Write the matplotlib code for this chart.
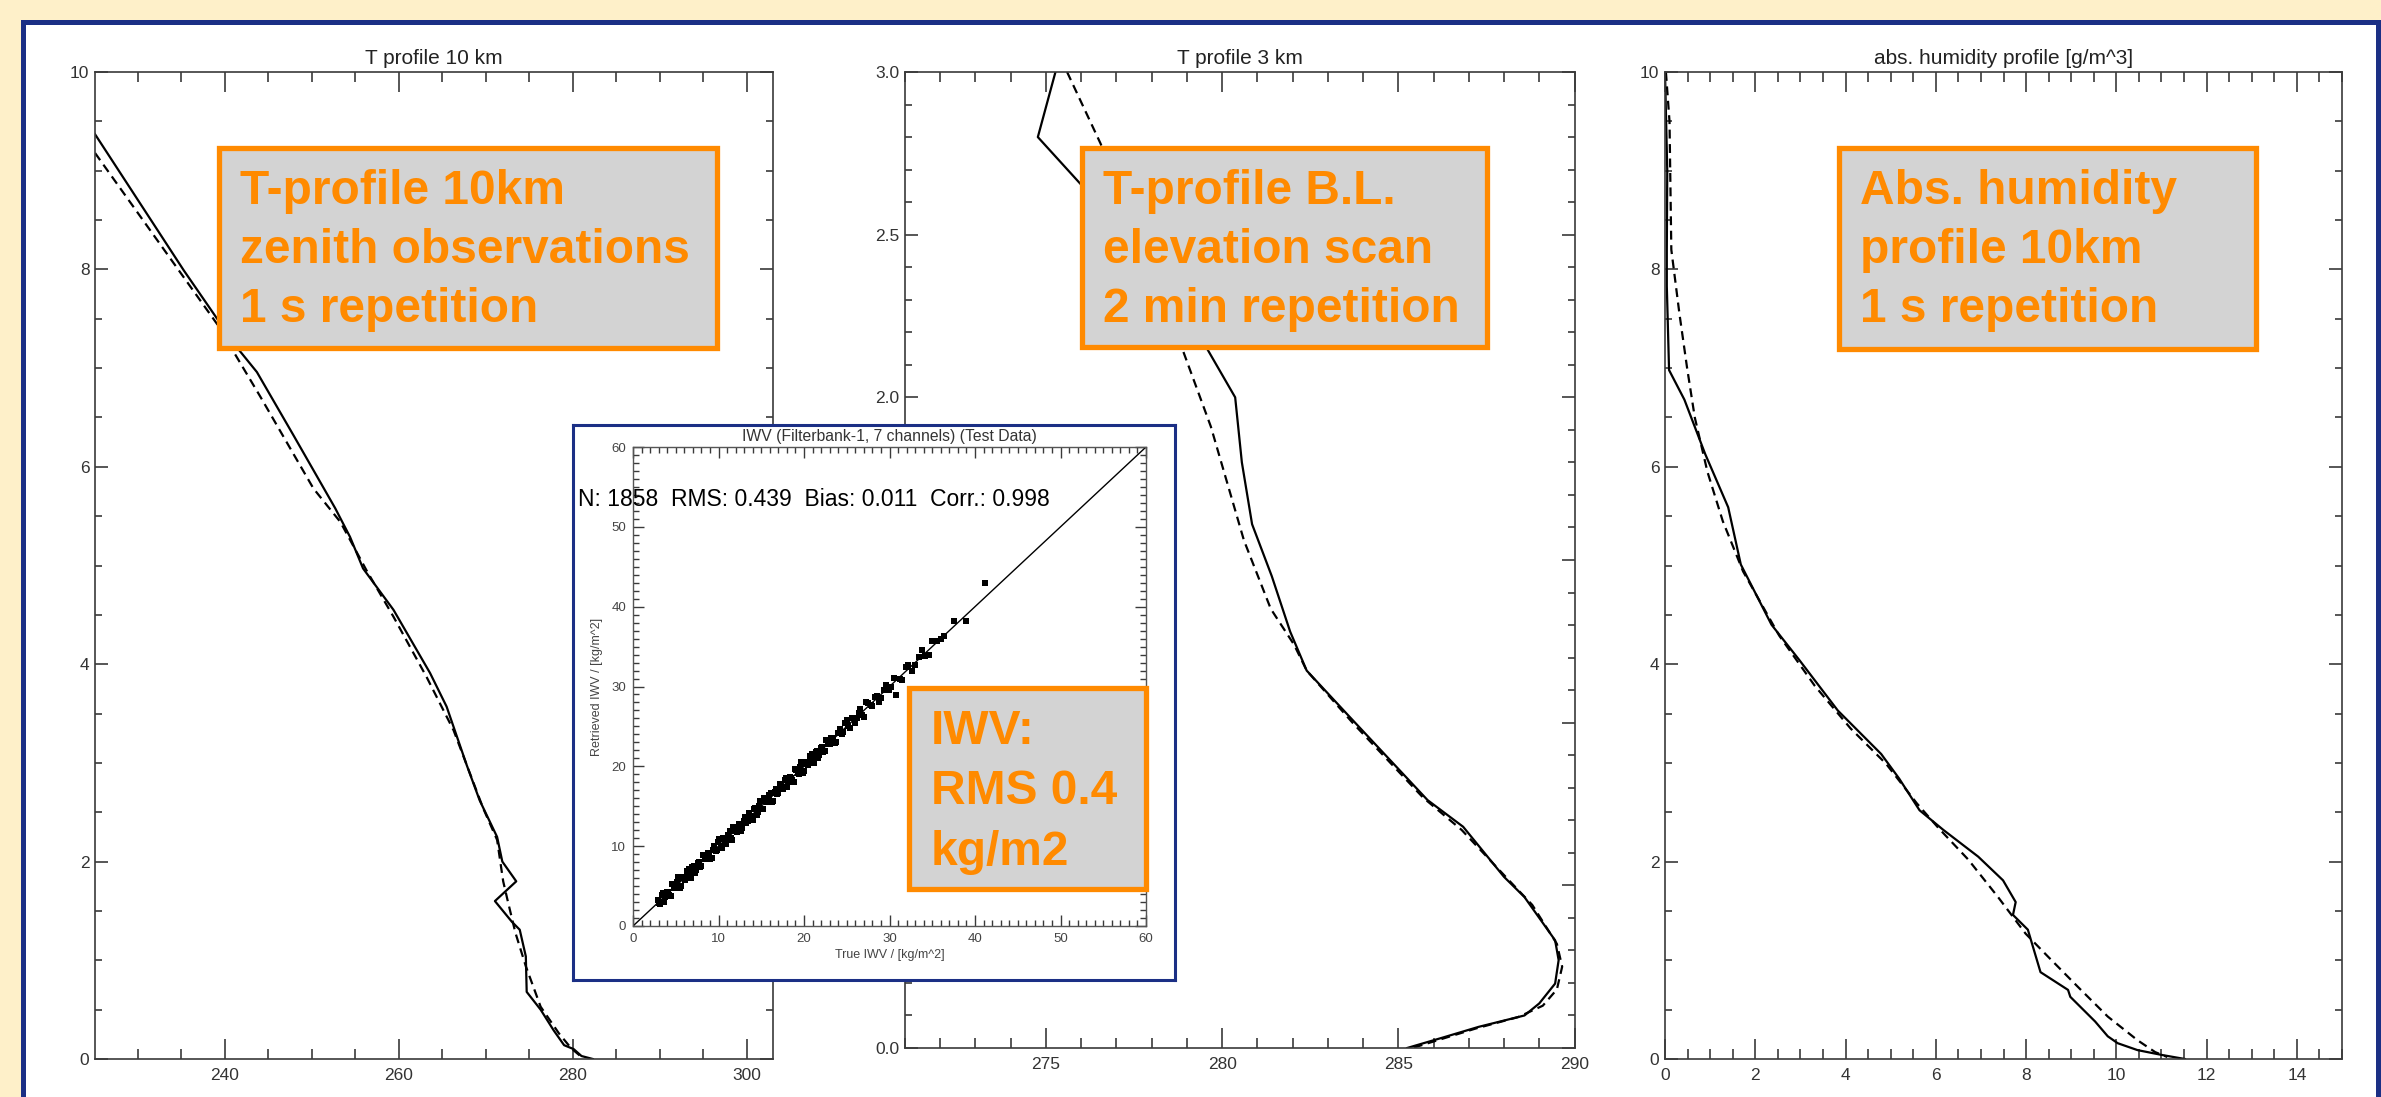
"""Three retrieval profiles (T 10 km, T 3 km, abs. humidity) with an IWV scatter inset."""

import matplotlib.pyplot as plt
from matplotlib.patches import Rectangle
from matplotlib.ticker import MultipleLocator, FormatStrFormatter

plt.rcParams["font.family"] = ["Liberation Sans", "DejaVu Sans"]

# ---- data ----
# T profile 10 km: temperature [K] vs height [km]
t10_solid_t = [225.1, 235.3, 241.4, 243.7, 247.9, 252.7, 254.4, 255.9, 259.4, 263.6, 265.5, 267.8,
               269.3, 271.3, 271.9, 273.5, 271.05, 273.0, 273.9, 274.6, 274.7, 276.3, 277.8, 279.0,
               280.1, 281.0, 282.3]
t10_solid_h = [9.37, 7.99, 7.21, 6.96, 6.32, 5.58, 5.29, 4.97, 4.55, 3.91, 3.57, 2.98,
               2.62, 2.25, 2.0, 1.80, 1.60, 1.39, 1.31, 1.04, 0.68, 0.50, 0.29, 0.14,
               0.10, 0.03, 0.0]
t10_dash_t = [225.1, 239.1, 244.1, 250.2, 253.3, 256.3, 259.4, 263.2, 266.3, 269.7, 271.3, 272.0,
              272.5, 273.4, 274.6, 276.3, 278.4, 279.8, 281.0]
t10_dash_h = [9.18, 7.45, 6.71, 5.78, 5.44, 4.95, 4.48, 3.87, 3.33, 2.54, 2.22, 1.80,
              1.61, 1.28, 0.94, 0.53, 0.26, 0.11, 0.02]

# T profile 3 km (boundary layer)
t3_solid_t = [275.27, 274.77, 276.03, 279.57, 280.37, 280.56, 280.85, 281.41, 281.93, 282.4, 283.6,
              285.83, 286.84, 288.0, 288.58, 289.45, 289.55, 289.45, 289.0, 288.58, 287.28, 286.26, 285.25]
t3_solid_h = [3.0, 2.80, 2.65, 2.15, 2.0, 1.80, 1.61, 1.45, 1.28, 1.16, 1.02,
              0.762, 0.68, 0.526, 0.464, 0.331, 0.27, 0.198, 0.137, 0.10, 0.065, 0.032, 0.0]
t3_dash_t = [275.6, 276.55, 278.9, 279.68, 280.62, 281.38, 282.04, 282.4, 283.7, 285.7, 286.8,
             288.1, 288.8, 289.5, 289.65, 289.5, 289.1, 288.4, 287.2, 286.3, 285.4]
t3_dash_h = [3.0, 2.78, 2.14, 1.91, 1.56, 1.35, 1.24, 1.16, 1.00, 0.77, 0.67,
             0.52, 0.44, 0.32, 0.25, 0.18, 0.13, 0.095, 0.06, 0.03, 0.0]

# absolute humidity [g/m^3] vs height [km]
q_solid = [0.0, 0.05, 0.04, 0.04, 0.09, 0.43, 0.89, 1.40, 1.68, 2.36, 2.98, 3.83, 4.79, 5.19, 5.64,
           6.17, 6.94, 7.49, 7.77, 7.71, 8.04, 8.32, 8.93, 8.98, 9.53, 9.81, 10.03, 10.47, 11.02, 11.52]
q_solid_h = [10.0, 9.0, 8.2, 7.83, 6.98, 6.68, 6.13, 5.59, 5.01, 4.40, 4.04, 3.53, 3.09, 2.84, 2.52,
             2.32, 2.05, 1.81, 1.59, 1.46, 1.31, 0.88, 0.70, 0.63, 0.38, 0.23, 0.16, 0.09, 0.04, 0.0]
q_dash = [0.02, 0.10, 0.14, 0.32, 0.49, 0.66, 0.94, 1.28, 1.73, 2.53, 3.32, 4.11, 4.90, 5.58,
          6.06, 6.72, 7.38, 7.99, 8.48, 9.15, 9.81, 10.47, 10.86, 11.13]
q_dash_h = [10.0, 9.5, 8.2, 7.55, 7.0, 6.50, 5.95, 5.45, 4.94, 4.29, 3.78, 3.35, 2.99, 2.59,
            2.34, 2.02, 1.64, 1.27, 1.04, 0.73, 0.43, 0.19, 0.07, 0.02]

# IWV scatter (true vs retrieved, kg/m^2), two passes along the band
iwv_true = [2.9, 3.2, 3.5, 3.8, 4.1, 4.4, 4.7, 5.0, 5.3, 5.6, 5.9, 6.2, 6.5, 6.8, 7.1, 7.4, 7.7, 8.0,
            8.3, 8.6, 8.9, 9.2, 9.5, 9.8, 10.1, 10.4, 10.7, 11.0, 11.3, 11.6, 11.9, 12.2, 12.5, 12.8,
            13.1, 13.4, 13.7, 14.0, 14.3, 14.6, 14.9, 15.2, 15.5, 15.8, 16.1, 16.4, 16.7, 17.0, 17.3,
            17.6, 17.9, 18.2, 18.5, 18.8, 19.1, 19.4, 19.7, 20.0, 20.3, 20.6, 20.9, 21.2, 21.5, 21.8,
            22.1, 22.4, 22.7, 23.0, 23.4, 23.8, 24.2, 24.6, 25.0, 25.4, 25.8, 26.2, 26.6, 27.0, 27.5,
            28.0, 28.5, 29.0, 29.6, 30.2, 30.8, 31.5, 32.2, 33.0, 33.8, 34.6, 35.5, 36.4, 37.6, 39.0, 41.2]
iwv_ret = [3.2, 2.7, 4.1, 3.6, 4.2, 3.7, 5.2, 4.7, 6.1, 5.0, 6.1, 6.1, 7.1, 6.0, 7.5, 7.0, 8.0, 7.5,
           8.9, 8.4, 9.0, 8.5, 10.0, 9.5, 10.9, 9.8, 10.9, 10.9, 11.9, 10.8, 12.3, 11.8, 12.8, 12.3,
           13.7, 13.2, 13.8, 13.3, 14.8, 14.3, 15.7, 14.6, 15.7, 15.7, 16.7, 15.6, 17.1, 16.6, 17.6,
           17.1, 18.5, 18.0, 18.6, 18.1, 19.6, 19.1, 20.5, 19.4, 20.5, 20.5, 21.5, 20.4, 21.9, 21.4,
           22.4, 21.9, 23.3, 22.8, 23.5, 23.1, 24.7, 24.3, 25.8, 24.8, 26.0, 26.1, 27.2, 26.2, 27.9,
           27.6, 28.8, 28.5, 30.2, 30.0, 28.9, 30.8, 32.7, 32.7, 34.6, 34.0, 35.7, 36.3, 38.2, 38.2, 43.0]
iwv_true_b = [3.05, 3.35, 3.65, 3.95, 4.25, 4.55, 4.85, 5.15, 5.45, 5.75, 6.05, 6.35, 6.65, 6.95,
              7.25, 7.55, 7.85, 8.15, 8.45, 8.75, 9.05, 9.35, 9.65, 9.95, 10.25, 10.55, 10.85, 11.15,
              11.45, 11.75, 12.05, 12.35, 12.65, 12.95, 13.25, 13.55, 13.85, 14.15, 14.45, 14.75,
              15.05, 15.35, 15.65, 15.95, 16.25, 16.55, 16.85, 17.15, 17.45, 17.75, 18.05, 18.35,
              18.65, 18.95, 19.25, 19.55, 19.85, 20.15, 20.45, 20.75, 21.05, 21.35, 21.65, 21.95,
              22.25, 22.55, 22.85, 23.2, 23.6, 24.0, 24.4, 24.8, 25.2, 25.6, 26.0, 26.4, 26.8, 27.3,
              27.8, 28.3, 28.8, 29.3, 29.9, 30.5, 31.2, 31.9, 32.6, 33.4, 34.2, 35.0, 36.0]
iwv_ret_b = [2.85, 3.85, 3.05, 4.25, 3.85, 5.25, 4.75, 5.55, 4.75, 5.95, 5.75, 6.95, 6.45, 7.45,
             6.65, 7.85, 7.45, 8.85, 8.35, 9.15, 8.35, 9.55, 9.35, 10.55, 10.05, 11.05, 10.25, 11.45,
             11.05, 12.45, 11.95, 12.75, 11.95, 13.15, 12.95, 14.15, 13.65, 14.65, 13.85, 15.05,
             14.65, 16.05, 15.55, 16.35, 15.55, 16.75, 16.55, 17.75, 17.25, 18.25, 17.45, 18.65,
             18.25, 19.65, 19.15, 19.95, 19.15, 20.35, 20.15, 21.35, 20.85, 21.85, 21.05, 22.25,
             21.85, 23.25, 22.75, 23.6, 22.9, 24.2, 24.1, 25.4, 25.0, 26.1, 25.4, 26.7, 26.4, 28.0,
             27.7, 28.7, 28.1, 29.5, 29.6, 31.1, 31.0, 32.4, 32.0, 33.7, 33.8, 35.7, 35.9]
iwv_line = [0, 60]

titles = ["T profile 10 km", "T profile 3 km", "abs. humidity profile [g/m^3]"]
notes = [
    "T-profile 10km\nzenith observations\n1 s repetition",
    "T-profile B.L.\nelevation scan\n2 min repetition",
    "Abs. humidity\nprofile 10km\n1 s repetition",
]
iwv_note = "IWV:\nRMS 0.4\nkg/m2"
stats = "N: 1858  RMS: 0.439  Bias: 0.011  Corr.: 0.998"

# ---- figure ----
W, H = 2381, 1097
BLUE = "#1b2f85"
ORANGE = "#ff8a00"
GREY = "#d3d3d3"
SPINE = "#3a3a3a"
LABEL = "#333333"

fig = plt.figure(figsize=(W / 100, H / 100), dpi=100, facecolor="#fef0c9")


def px(x0, y0, x1, y1):
    return [x0 / W, 1 - y1 / H, (x1 - x0) / W, (y1 - y0) / H]


fig.add_artist(Rectangle((23 / W, -0.02), (2378 - 23) / W, (H - 22) / H + 0.02,
                         transform=fig.transFigure, facecolor="white", edgecolor=BLUE,
                         linewidth=3.6, zorder=-1))


def style(ax, xmaj, xmin, ymaj, ymin):
    ax.xaxis.set_major_locator(MultipleLocator(xmaj))
    ax.xaxis.set_minor_locator(MultipleLocator(xmin))
    ax.yaxis.set_major_locator(MultipleLocator(ymaj))
    ax.yaxis.set_minor_locator(MultipleLocator(ymin))
    ax.tick_params(which="both", direction="in", top=True, right=True,
                   color=SPINE, labelcolor=LABEL, labelsize=12.5, width=1.2)
    ax.tick_params(axis="x", which="major", length=14.4, pad=6.5)
    ax.tick_params(axis="x", which="minor", length=7.2)
    ax.tick_params(axis="y", which="major", length=9.4, pad=4)
    ax.tick_params(axis="y", which="minor", length=5)
    for s in ax.spines.values():
        s.set_color(SPINE)
        s.set_linewidth(1.2)


ax1 = fig.add_axes(px(95, 72, 773, 1059))
ax2 = fig.add_axes(px(905, 72, 1574.5, 1048))
ax3 = fig.add_axes(px(1665, 72, 2342, 1059))

dash = (0, (4, 2.5))
ax1.plot(t10_solid_t, t10_solid_h, color="black", lw=1.6)
ax1.plot(t10_dash_t, t10_dash_h, color="black", lw=1.6, linestyle=dash)
ax1.set_xlim(225.1, 303.0)
ax1.set_ylim(0, 10)
style(ax1, 20, 5, 2, 0.5)

ax2.plot(t3_solid_t, t3_solid_h, color="black", lw=1.6)
ax2.plot(t3_dash_t, t3_dash_h, color="black", lw=1.6, linestyle=dash)
ax2.set_xlim(271.0, 290.0)
ax2.set_ylim(0, 3)
style(ax2, 5, 1, 0.5, 0.1)
ax2.yaxis.set_major_formatter(FormatStrFormatter("%.1f"))

ax3.plot(q_solid, q_solid_h, color="black", lw=1.6)
ax3.plot(q_dash, q_dash_h, color="black", lw=1.6, linestyle=dash)
ax3.set_xlim(0, 15)
ax3.set_ylim(0, 10)
style(ax3, 2, 0.5, 2, 0.5)

for ax, t in zip([ax1, ax2, ax3], titles):
    ax.set_title(t, fontsize=15, pad=6, color="#222222")

# note boxes over the profile panels (text anchored on the last line's baseline)
note_boxes = [(219, 148, 717, 348), (1082, 148, 1487, 347), (1839, 148, 2256, 349)]
note_text_x = [240, 1103, 1860]
for (x0, y0, x1, y1), tx, txt in zip(note_boxes, note_text_x, notes):
    fig.add_artist(Rectangle((x0 / W, 1 - y1 / H), (x1 - x0) / W, (y1 - y0) / H,
                             transform=fig.transFigure, facecolor=GREY, edgecolor=ORANGE,
                             linewidth=3.8, zorder=4))
    fig.text(tx / W, 1 - 322 / H, txt, fontsize=34.5, fontweight="bold", color=ORANGE,
             ha="left", va="baseline", linespacing=1.40, zorder=5)

# inset: IWV scatter
frame = fig.add_axes(px(573, 425, 1175, 980), zorder=2)
frame.set_facecolor("white")
frame.set_xticks([])
frame.set_yticks([])
for s in frame.spines.values():
    s.set_color(BLUE)
    s.set_linewidth(2.2)

axi = fig.add_axes(px(633, 447, 1146, 926), zorder=3)
axi.plot(iwv_line, iwv_line, color="black", lw=1.0)
axi.plot(iwv_true, iwv_ret, linestyle="none", marker="s", ms=3.7, color="black", mew=0)
axi.plot(iwv_true_b, iwv_ret_b, linestyle="none", marker="s", ms=3.7, color="black", mew=0)
axi.set_xlim(0, 60)
axi.set_ylim(0, 60)
axi.xaxis.set_major_locator(MultipleLocator(10))
axi.xaxis.set_minor_locator(MultipleLocator(1))
axi.yaxis.set_major_locator(MultipleLocator(10))
axi.yaxis.set_minor_locator(MultipleLocator(1))
axi.tick_params(which="both", direction="in", top=True, right=True, color=SPINE,
                labelcolor="#444444", labelsize=9.5, width=1.0)
axi.tick_params(which="major", length=8, pad=5)
axi.tick_params(which="minor", length=4)
for s in axi.spines.values():
    s.set_color("#555555")
    s.set_linewidth(1.0)
axi.set_title("IWV (Filterbank-1, 7 channels) (Test Data)", fontsize=11.3, pad=4, color="#333333")
axi.set_xlabel("True IWV / [kg/m^2]", fontsize=9, color="#444444", labelpad=3)
axi.set_ylabel("Retrieved IWV / [kg/m^2]", fontsize=9, color="#444444", labelpad=6)
axi.text((578 - 633) / (1146 - 633), (926 - 499) / (926 - 447), stats, transform=axi.transAxes,
         fontsize=16.5, color="black", ha="left", va="center", clip_on=False)

fig.add_artist(Rectangle((909 / W, 1 - 889 / H), (1146 - 909) / W, (889 - 688) / H,
                         transform=fig.transFigure, facecolor=GREY, edgecolor=ORANGE,
                         linewidth=3.8, zorder=6))
fig.text(931 / W, 1 - 865 / H, iwv_note, fontsize=34.5, fontweight="bold", color=ORANGE,
         ha="left", va="baseline", linespacing=1.45, zorder=7)

fig.savefig("out.png", dpi=100)
